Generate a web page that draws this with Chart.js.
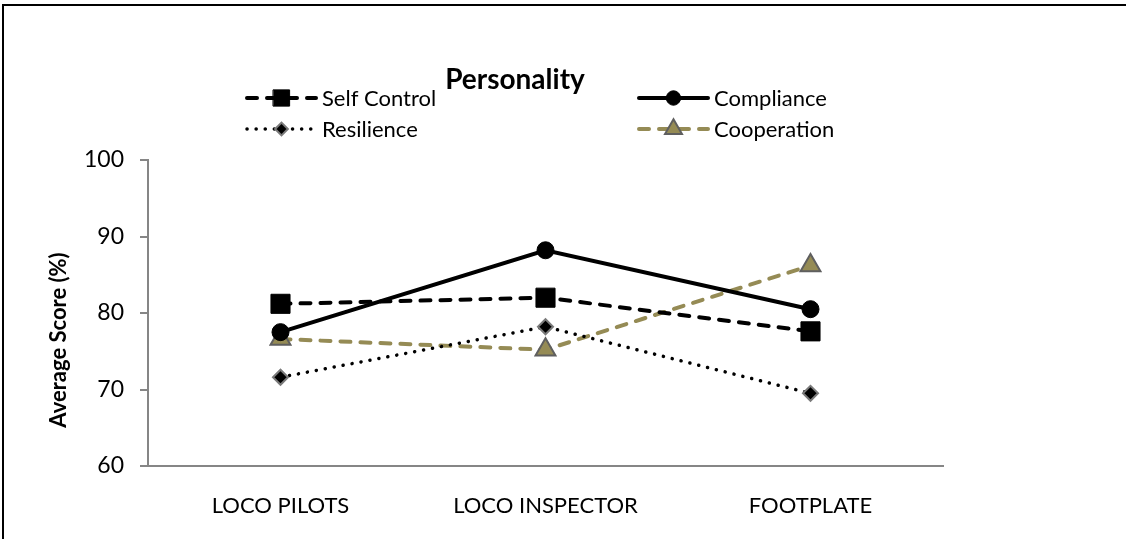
<!DOCTYPE html>
<html>
<head>
<meta charset="utf-8">
<script src="https://cdn.jsdelivr.net/npm/chart.js@4/dist/chart.umd.min.js"></script>
<style>
  html, body { margin: 0; padding: 0; background: #fff; }
  #wrap { position: relative; width: 1126px; height: 539px; overflow: hidden; }
  #frame { position: absolute; left: 2px; top: 4px; width: 1140px; height: 600px; border-left: 2px solid #000; border-top: 2px solid #000; box-sizing: border-box; pointer-events: none; }
  canvas { position: absolute; left: 0; top: 0; }
</style>
</head>
<body>
<div id="wrap">
  <canvas id="c" width="1126" height="539"></canvas>
  <div id="frame"></div>
</div>
<script>
const categories = ['LOCO PILOTS', 'LOCO INSPECTOR', 'FOOTPLATE'];
const selfControl = [81.2, 82.0, 77.6];
const compliance  = [77.5, 88.2, 80.5];
const resilience  = [71.6, 78.2, 69.5];
const cooperation = [76.6, 75.2, 86.2];
const seriesNames = ['Self Control', 'Compliance', 'Resilience', 'Cooperation'];
const chartTitle = 'Personality';
const yTitle = 'Average Score (%)';
const yTicks = [60, 70, 80, 90, 100];

const FONT = 'Lato, "Open Sans", sans-serif';
const OLIVE = '#958B55';

const datasets = [
  { label: seriesNames[0], data: selfControl, borderColor: '#000', backgroundColor: '#000',
    borderWidth: 4, borderDash: [10, 10], borderCapStyle: 'round',
    pointStyle: 'rect', pointRadius: 13.5, pointBorderColor: '#000', pointBackgroundColor: '#000', pointBorderWidth: 1 },
  { label: seriesNames[1], data: compliance, borderColor: '#000', backgroundColor: '#000',
    borderWidth: 4, borderCapStyle: 'round',
    pointStyle: 'circle', pointRadius: 8.5, pointBorderColor: '#000', pointBackgroundColor: '#000', pointBorderWidth: 1 },
  { label: seriesNames[2], data: resilience, borderColor: '#000', backgroundColor: '#000',
    borderWidth: 3.5, borderDash: [0.1, 9], borderCapStyle: 'round',
    pointStyle: 'rectRot', pointRadius: 7.5, pointBorderColor: '#7a7a7a', pointBackgroundColor: '#000', pointBorderWidth: 2 },
  { label: seriesNames[3], data: cooperation, borderColor: OLIVE, backgroundColor: OLIVE,
    borderWidth: 4, borderDash: [10, 10], borderCapStyle: 'round',
    pointStyle: 'triangle', pointRadius: 11.5, pointBorderColor: '#5f5f5f', pointBackgroundColor: OLIVE, pointBorderWidth: 2 }
];

const customDraw = {
  id: 'customDraw',
  afterDraw(chart) {
    const ctx = chart.ctx;
    ctx.save();
    // title
    ctx.fillStyle = '#000';
    ctx.font = 'bold 28px ' + FONT;
    ctx.textAlign = 'center';
    ctx.textBaseline = 'alphabetic';
    ctx.fillText(chartTitle, 515, 89);
    // y title
    ctx.save();
    ctx.translate(66, 340);
    ctx.rotate(-Math.PI / 2);
    ctx.font = 'bold 22px ' + FONT;
    ctx.textAlign = 'center';
    ctx.textBaseline = 'alphabetic';
    ctx.fillText(yTitle, 0, 0);
    ctx.restore();
    // legend
    const pos = [[245, 98], [637, 98], [245, 129], [637, 129]];
    chart.data.datasets.forEach((ds, i) => {
      const [x0, y] = pos[i];
      const x1 = x0 + 73;
      ctx.save();
      ctx.strokeStyle = ds.borderColor;
      ctx.lineWidth = ds.borderWidth;
      ctx.lineCap = ds.borderCapStyle || 'butt';
      ctx.setLineDash(ds.borderDash || []);
      ctx.beginPath();
      ctx.moveTo(x0 + 2, y);
      ctx.lineTo(x1 - 2, y);
      ctx.stroke();
      ctx.setLineDash([]);
      ctx.fillStyle = ds.pointBackgroundColor;
      ctx.strokeStyle = ds.pointBorderColor;
      ctx.lineWidth = ds.pointBorderWidth;
      Chart.helpers.drawPoint(ctx, { pointStyle: ds.pointStyle, radius: ds.pointRadius * 0.85, borderWidth: ds.pointBorderWidth, rotation: 0 }, (x0 + x1) / 2, y);
      ctx.restore();
      ctx.fillStyle = '#000';
      ctx.font = '22px ' + FONT;
      ctx.textAlign = 'left';
      ctx.textBaseline = 'middle';
      ctx.fillText(ds.label, x1 + 4, y + 1);
    });
    ctx.restore();
  }
};

new Chart(document.getElementById('c'), {
  type: 'line',
  data: { labels: categories, datasets },
  options: {
    responsive: false,
    animation: false,
    devicePixelRatio: 1,
    layout: { padding: { top: 160, right: 183, bottom: 0, left: 0 } },
    plugins: { legend: { display: false }, title: { display: false }, tooltip: { enabled: false } },
    scales: {
      x: {
        offset: true,
        grid: { display: false, drawTicks: false },
        border: { display: true, color: '#868686', width: 2 },
        ticks: { color: '#000', font: { family: FONT, size: 22 }, padding: 27, maxRotation: 0 },
        afterFit(s) { s.height = 73; }
      },
      y: {
        min: 60, max: 100,
        afterBuildTicks(s) { s.ticks = yTicks.map(v => ({ value: v })); },
        grid: { display: true, drawOnChartArea: false, drawTicks: true, tickLength: 8, color: '#868686', lineWidth: 2 },
        border: { display: true, color: '#868686', width: 2 },
        ticks: { color: '#000', font: { family: FONT, size: 23 }, padding: 16 },
        afterFit(s) { s.width = 148; }
      }
    }
  },
  plugins: [customDraw]
});
</script>
</body>
</html>
